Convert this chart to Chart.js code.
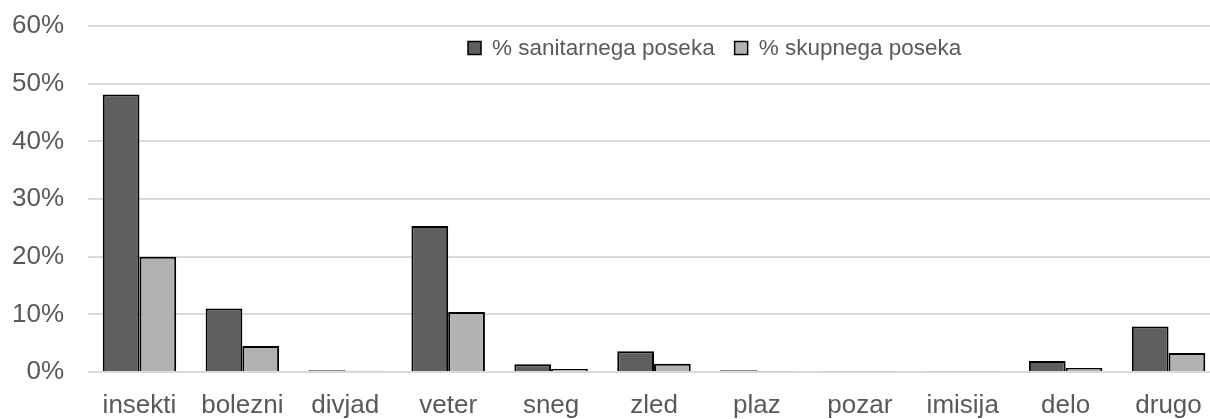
<!DOCTYPE html>
<html>
<head>
<meta charset="utf-8">
<script src="https://cdn.jsdelivr.net/npm/chart.js@4/dist/chart.umd.min.js"></script>
<style>
  html, body { margin: 0; padding: 0; background: #ffffff; overflow: hidden; }
  #wrap { width: 1220px; height: 419px; }
</style>
</head>
<body>
<div id="wrap"><canvas id="poseki" width="1220" height="419"></canvas></div>
<script>
// Vzroki sanitarnega poseka
const categories = ['insekti', 'bolezni', 'divjad', 'veter', 'sneg', 'zled', 'plaz', 'pozar', 'imisija', 'delo', 'drugo'];
const sanitarniPosek = [48.1, 11.0, 0.3, 25.3, 1.35, 3.6, 0.3, 0.15, 0.15, 1.9, 7.9];
const skupniPosek = [20.0, 4.5, 0.2, 10.4, 0.5, 1.45, 0.15, 0.15, 0.15, 0.7, 3.3];
const seriesLabels = ['% sanitarnega poseka', '% skupnega poseka'];
const yTicks = [0, 10, 20, 30, 40, 50, 60];

const textColor = '#595959';
const fontFamily = 'Arial, "Liberation Sans", sans-serif';

// Legend drawn inside the plot area, like in the original
const innerLegend = {
    id: 'innerLegend',
    afterDraw(chart) {
        const ctx = chart.ctx;
        const box = 13;
        let x = 468;
        const y = 48;
        ctx.save();
        ctx.font = '22.5px ' + fontFamily;
        ctx.textBaseline = 'middle';
        chart.data.datasets.forEach(ds => {
            ctx.fillStyle = ds.backgroundColor;
            ctx.fillRect(x, y - box / 2, box, box);
            ctx.strokeStyle = '#000000';
            ctx.lineWidth = 1.5;
            ctx.strokeRect(x, y - box / 2, box, box);
            x += box + 11;
            ctx.fillStyle = textColor;
            ctx.fillText(ds.label, x, y + 1);
            x += ctx.measureText(ds.label).width + 20;
        });
        ctx.restore();
    }
};

new Chart(document.getElementById('poseki'), {
    type: 'bar',
    data: {
        labels: categories,
        datasets: [{
            label: seriesLabels[0],
            data: sanitarniPosek,
            backgroundColor: '#5f5f5f',
            borderColor: '#000000',
            borderWidth: 2,
            categoryPercentage: 0.714,
            barPercentage: 1.0
        }, {
            label: seriesLabels[1],
            data: skupniPosek,
            backgroundColor: '#b2b2b2',
            borderColor: '#000000',
            borderWidth: 2,
            categoryPercentage: 0.714,
            barPercentage: 1.0
        }]
    },
    options: {
        responsive: false,
        animation: false,
        layout: { padding: { top: 26, right: 0, left: 0, bottom: 0 } },
        plugins: {
            legend: { display: false },
            tooltip: { enabled: false }
        },
        scales: {
            x: {
                grid: { display: false, drawTicks: false },
                border: { display: false },
                ticks: {
                    color: textColor,
                    font: { size: 26, family: fontFamily },
                    padding: 18,
                    maxRotation: 0,
                    autoSkip: false
                },
                afterFit(scale) { scale.height = 47; }
            },
            y: {
                min: 0,
                max: 60,
                afterBuildTicks(scale) { scale.ticks = yTicks.map(v => ({ value: v })); },
                grid: { color: '#d9d9d9', lineWidth: 2, drawTicks: false },
                border: { display: false },
                ticks: {
                    color: textColor,
                    // small lineHeight keeps the label padding from pushing the plot down
                    font: { size: 26, family: fontFamily, lineHeight: 0.1 },
                    padding: 24,
                    callback: v => v + '%'
                },
                afterFit(scale) { scale.width = 88; }
            }
        }
    },
    plugins: [innerLegend]
});
</script>
</body>
</html>
